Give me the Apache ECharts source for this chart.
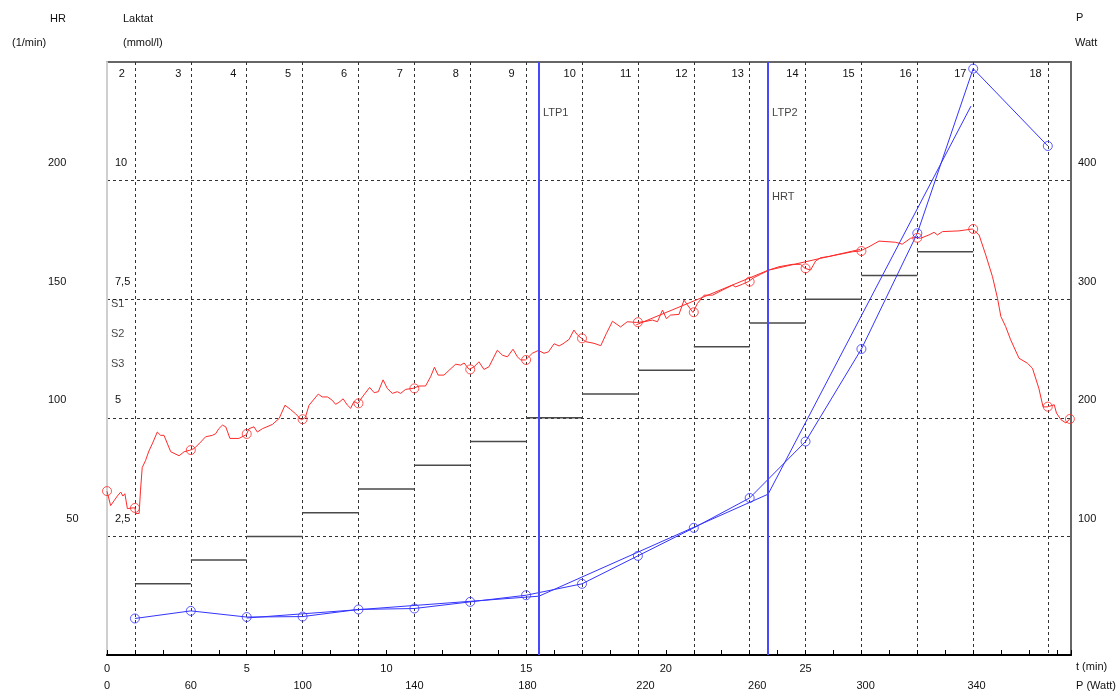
<!DOCTYPE html>
<html><head><meta charset="utf-8">
<script src="https://cdn.jsdelivr.net/npm/echarts@6/dist/echarts.min.js"></script>
<style>html,body{margin:0;padding:0;background:#fff}#c{width:1119px;height:691px}</style>
</head><body><div id="c"></div>
<script>
// ---- data ----
const hrTime = [
 0,0.13,0.25,0.37,0.49,0.57,0.64,0.73,0.9,1.0,
 1.03,1.15,1.2,1.26,1.38,1.5,1.62,1.8,1.92,2.04,
 2.28,2.58,2.76,2.96,3.11,3.29,3.53,3.77,3.89,4.0,
 4.13,4.25,4.4,4.72,4.99,5.08,5.26,5.38,5.56,5.92,
 6.16,6.37,6.57,6.75,6.96,7.1,7.23,7.56,7.7,7.89,
 8.06,8.18,8.3,8.45,8.6,8.72,8.84,8.98,9.14,9.4,
 9.56,9.71,9.88,10.03,10.21,10.39,10.51,10.69,10.95,11.17,
 11.4,11.58,11.72,11.85,12.06,12.24,12.48,12.66,12.78,12.96,
 13.14,13.31,13.49,13.67,13.97,14.15,14.33,14.53,14.69,14.8,
 14.98,15.22,15.44,15.64,15.8,16.0,16.18,16.32,16.54,16.71,
 16.83,16.98,17.13,17.43,17.67,17.87,18.09,18.38,18.62,18.94,
 19.22,19.52,19.7,19.88,20.02,20.17,20.47,20.65,20.97,21.13,
 21.37,21.67,22.02,22.38,22.5,22.74,22.95,23.15,23.39,23.69,
 24.05,24.53,24.82,24.98,25.18,25.36,25.54,25.84,26.08,26.68,
 26.95,27.27,27.63,28.22,28.46,28.76,28.94,29.12,29.42,29.6,
 29.72,29.9,30.49,30.97,31.21,31.45,31.69,31.87,31.99,32.16,
 32.34,32.64,32.94,33.12,33.35,33.5,33.65,33.9,33.98,34.14,
 34.32,34.46];
const hrValue = [
 69,63,65,67,68.7,67,68,61.7,62,62,
 59.6,59.7,69.5,79,82,86,89,94,92.6,92.6,
 85.7,84,85.7,86.3,87,89,92,92.6,93.3,95.4,
 96.9,96.2,91.3,91.3,92.9,95.4,96.2,94,95.4,97.2,
 99.7,105.3,103.5,101.7,99.1,100.2,105.3,110,108.8,108.8,
 107.4,105.7,106.5,108,105.4,104,106.9,106,108.8,112.8,
 110.6,111,116,112.4,110.3,111,110.3,112,112.4,113.4,
 113.4,117.3,121.3,118,118,120,122.6,122.2,123.1,120.4,
 121.5,123.6,120.4,121.5,128.5,126.4,125.7,128.9,125.7,124.4,
 124.4,127.2,128.4,127.2,127.8,131.2,130.3,131.2,133.1,137,
 135,133.5,132.1,131.4,130.4,135.5,140.7,138.3,140.5,140.2,
 140.5,141.2,140.5,145.4,141.8,143.3,143.6,149.6,144.4,148.2,
 151.7,151.7,153.8,155.9,155.2,156.3,157.4,159.1,160.5,162.3,
 163.7,164.7,164.7,163,162.3,166.1,167.5,168,168.6,170,
 170.3,172.1,174.5,174,173.2,175.7,176,175.7,177.1,178.2,
 177.1,178.5,178.8,179.6,177.1,168.6,159.5,150.4,142.7,138.5,
 132.9,125.1,123,120.9,112.4,104.6,104.6,105.5,102,99.2,
 97.8,99.6];

const hrMarkTime  = [0,1,3,5,7,9,11,13,15,17,19,21,23,25,27,29,31,33.67,34.46];
const hrMarkValue = [69.1,62,86.4,93.2,99.4,106.1,112.4,120.4,124.4,133.5,140.3,144.5,157.4,163,170.3,175.9,179.6,104.7,99.5];

const hrFitTime  = [18.94, 23.66, 26.95];
const hrFitValue = [139.2, 162.2, 171.0];

const lacTime  = [1,3,5,7,9,11,13,15,17,19,21,23,25,27,29,31,33.67];
const lacValue = [0.77,0.93,0.80,0.81,0.96,0.98,1.12,1.26,1.50,2.09,2.68,3.31,4.50,6.45,8.89,12.36,10.73];

const lacFitTime  = [5, 15.46, 23.66, 30.92];
const lacFitValue = [0.78, 1.24, 3.39, 11.57];

const stageStart = [1,3,5,7,9,11,13,15,17,19,21,23,25,27,29];
const stagePower = [60,80,100,120,140,160,180,200,220,240,260,280,300,320,340];
const stageLength = 2;

const stageGridTimes = [1,3,5,7,9,11,13,15,17,19,21,23,25,27,29,31,33.7];
const timeTickLabels = [0,5,10,15,20,25];
const powerLabelTimes = [0,3,7,11,15.05,19.27,23.27,27.15,31.12];
const powerLabels = ['0','60','100','140','180','220','260','300','340'];
const stageNumTimes = [0.53,2.55,4.52,6.48,8.48,10.48,12.48,14.48,16.56,18.56,20.56,22.57,24.53,26.54,28.58,30.54,33.23];
const stageNums = ['2','3','4','5','6','7','8','9','10','11','12','13','14','15','16','17','18'];

const lacTicks = [2.5,5,7.5,10];
const hrTicks = [50,100,150,200];
const powerTicks = [100,200,300,400];

const thresholdTimes = [15.46, 23.66];
const markerNames  = ['LTP1','LTP2','HRT','S1','S2','S3'];
const markerTimes  = [15.46, 23.66, 23.66, 0, 0, 0];
const markerLevels = [11.42, 11.42, 9.65, 7.40, 6.77, 6.13];

// ---- build ----
const FONT = 'Liberation Sans, Arial, sans-serif';
const TXT = '#111';
const RED = '#ff2a2a';
const BLUE = '#3434ff';

const zip = (a, b) => a.map((v, i) => [v, b[i]]);
const stepData = [];
stageStart.forEach((s, i) => {
  stepData.push([s, stagePower[i]], [s + stageLength, stagePower[i]], [s + stageLength, '-']);
});

const XMIN = 0, XMAX = 34.5;
const baseX = {type: 'value', min: XMIN, max: XMAX, gridIndex: 0};
const txt = (s, left, top) => ({type: 'text', left: left, top: top, style: {text: s, fill: TXT, font: '11px ' + FONT}});

const chart = echarts.init(document.getElementById('c'), null, {renderer: 'canvas'});
chart.setOption({
  animation: false,
  backgroundColor: '#fff',
  textStyle: {fontFamily: FONT},
  grid: {left: 107, right: 48, top: 62, bottom: 36, show: true, borderColor: '#666', borderWidth: 2, backgroundColor: '#fff'},
  xAxis: [
    Object.assign({}, baseX, {
      position: 'bottom', interval: 1,
      axisLine: {show: true, lineStyle: {color: '#000', width: 2}},
      axisTick: {show: true, inside: true, length: 5, lineStyle: {color: '#000', width: 1}},
      axisLabel: {customValues: timeTickLabels, color: TXT, fontSize: 11, fontFamily: FONT, margin: 8},
      splitLine: {show: false}
    }),
    Object.assign({}, baseX, {
      position: 'bottom',
      axisLine: {show: false}, axisLabel: {show: false},
      axisTick: {show: false, customValues: stageGridTimes},
      splitLine: {show: true, lineStyle: {color: '#333', type: [3, 3], width: 1}}
    }),
    Object.assign({}, baseX, {
      position: 'bottom', offset: 17,
      axisLine: {show: false}, axisTick: {show: false, customValues: powerLabelTimes},
      axisLabel: {customValues: powerLabelTimes, color: TXT, fontSize: 11, fontFamily: FONT, margin: 8,
        formatter: v => { const i = powerLabelTimes.findIndex(p => Math.abs(p - v) < 1e-6); return i >= 0 ? powerLabels[i] : ''; }},
      splitLine: {show: false}
    }),
    Object.assign({}, baseX, {
      position: 'top',
      axisLine: {show: false}, axisTick: {show: false, customValues: stageNumTimes},
      axisLabel: {inside: true, customValues: stageNumTimes, color: TXT, fontSize: 11, fontFamily: FONT, margin: 6,
        formatter: v => { const i = stageNumTimes.findIndex(p => Math.abs(p - v) < 1e-6); return i >= 0 ? stageNums[i] : ''; }},
      splitLine: {show: false}
    })
  ],
  yAxis: [
    { // Laktat
      type: 'value', min: 0, max: 12.5, interval: 2.5, position: 'left',
      axisLine: {show: true, lineStyle: {color: '#cfcfcf', width: 2}},
      axisTick: {show: false, customValues: lacTicks},
      axisLabel: {inside: true, customValues: lacTicks, margin: 8, color: TXT, fontSize: 11, fontFamily: FONT,
        align: 'left', verticalAlign: 'bottom', padding: [0, 0, 12, 0],
        formatter: v => String(v).replace('.', ',')},
      splitLine: {show: true, lineStyle: {color: '#333', type: [3, 3], width: 1}}
    },
    { // HR
      type: 'value', min: 0, max: 250, interval: 50, position: 'left',
      axisLine: {show: false}, axisTick: {show: false, customValues: hrTicks},
      axisLabel: {customValues: hrTicks, margin: 59, color: TXT, fontSize: 11, fontFamily: FONT,
        align: 'left', verticalAlign: 'bottom', padding: [0, 0, 12, 0],
        formatter: v => (v < 100 ? '\u2007\u2007\u2007' : '') + v},
      splitLine: {show: false}
    },
    { // Power
      type: 'value', min: 0, max: 500, interval: 100, position: 'right',
      axisLine: {show: false}, axisTick: {show: false, customValues: powerTicks},
      axisLabel: {customValues: powerTicks, margin: 7, color: TXT, fontSize: 11, fontFamily: FONT,
        align: 'left', verticalAlign: 'bottom', padding: [0, 0, 12, 0]},
      splitLine: {show: false}
    }
  ],
  graphic: [
    txt('HR', 50, 13), txt('(1/min)', 12, 37),
    txt('Laktat', 123, 13), txt('(mmol/l)', 123, 37),
    txt('P', 1076, 12), txt('Watt', 1075, 37),
    txt('t (min)', 1076, 661), txt('P (Watt)', 1076, 680)
  ],
  series: [
    {
      name: 'Leistung', type: 'line', xAxisIndex: 0, yAxisIndex: 2, data: stepData,
      symbol: 'none', connectNulls: false, lineStyle: {color: '#4a4a4a', width: 1.5}, z: 2
    },
    {
      name: 'HR', type: 'line', xAxisIndex: 0, yAxisIndex: 1, data: zip(hrTime, hrValue),
      symbol: 'none', lineStyle: {color: RED, width: 1}, z: 4
    },
    {
      name: 'HR fit', type: 'line', xAxisIndex: 0, yAxisIndex: 1, data: zip(hrFitTime, hrFitValue),
      symbol: 'none', lineStyle: {color: RED, width: 1}, z: 4
    },
    {
      name: 'HR marks', type: 'scatter', xAxisIndex: 0, yAxisIndex: 1, data: zip(hrMarkTime, hrMarkValue),
      symbol: 'circle', symbolSize: 9, itemStyle: {color: 'rgba(0,0,0,0)', borderColor: RED, borderWidth: 1}, z: 5
    },
    {
      name: 'Laktat', type: 'line', xAxisIndex: 0, yAxisIndex: 0, data: zip(lacTime, lacValue),
      symbol: 'none', lineStyle: {color: BLUE, width: 1}, z: 4,
      markLine: {
        silent: true, symbol: 'none', label: {show: false},
        lineStyle: {color: '#4848ff', width: 2, type: 'solid'},
        data: thresholdTimes.map(t => ({xAxis: t}))
      }
    },
    {
      name: 'Laktat fit', type: 'line', xAxisIndex: 0, yAxisIndex: 0, data: zip(lacFitTime, lacFitValue),
      symbol: 'none', lineStyle: {color: BLUE, width: 1}, z: 4
    },
    {
      name: 'Laktat marks', type: 'scatter', xAxisIndex: 0, yAxisIndex: 0, data: zip(lacTime, lacValue),
      symbol: 'circle', symbolSize: 9, itemStyle: {color: 'rgba(0,0,0,0)', borderColor: BLUE, borderWidth: 1}, z: 5
    },
    {
      name: 'Marker', type: 'scatter', xAxisIndex: 0, yAxisIndex: 0, symbolSize: 0,
      data: markerNames.map((n, i) => ({name: n, value: [markerTimes[i], markerLevels[i]]})),
      label: {show: true, position: 'right', distance: 4, formatter: p => p.name, color: TXT, fontSize: 11, fontFamily: FONT},
      z: 6
    }
  ]
});
</script></body></html>
